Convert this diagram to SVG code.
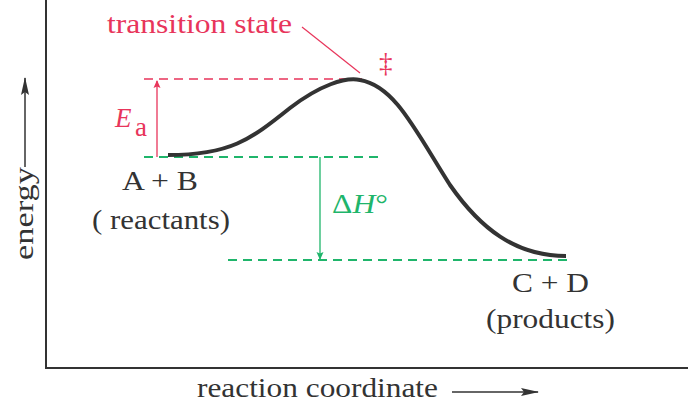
<svg xmlns="http://www.w3.org/2000/svg" width="688" height="403" viewBox="0 0 688 403">
<style>
text{font-family:"Liberation Serif","Times New Roman",serif;font-size:27px}
.k{fill:#333}
.r{fill:#e8355b}
.g{fill:#1fb56b}
.rd{stroke:#e8355b;stroke-width:1.5;stroke-dasharray:9,6;fill:none}
.gd{stroke:#1fb56b;stroke-width:1.8;stroke-dasharray:9,6;fill:none}
</style>
<defs>
<marker id="ak" markerWidth="18" markerHeight="8" refX="17" refY="4" orient="auto" markerUnits="userSpaceOnUse"><path d="M0,0 L18,4 L0,8 L3,4 Z" fill="#333"/></marker>
<marker id="ar" markerWidth="8" markerHeight="8" refX="7" refY="4" orient="auto" markerUnits="userSpaceOnUse"><path d="M0,0.5 L8,4 L0,7.5 L1.5,4 Z" fill="#e8355b"/></marker>
<marker id="ag" markerWidth="8" markerHeight="8" refX="7" refY="4" orient="auto" markerUnits="userSpaceOnUse"><path d="M0,0.5 L8,4 L0,7.5 L1.5,4 Z" fill="#1fb56b"/></marker>
</defs>
<g id="axes" stroke="#333" stroke-width="2" fill="none">
<path d="M46,0 V368 H688"/>
</g>
<g id="connectors">
<line class="rd" x1="144" y1="79" x2="362" y2="79"/>
<line x1="157" y1="157" x2="157" y2="81" stroke="#e8355b" stroke-width="1.3" marker-end="url(#ar)"/>
<line x1="302" y1="27" x2="360" y2="73" stroke="#e8355b" stroke-width="1.2"/>
<line class="gd" x1="144" y1="157" x2="384" y2="157"/>
<line x1="320" y1="157" x2="320" y2="259" stroke="#1fb56b" stroke-width="1.3" marker-end="url(#ag)"/>
<line class="gd" x1="228" y1="260" x2="568" y2="260"/>
<line x1="25" y1="167" x2="25" y2="78" stroke="#333" stroke-width="1.5" marker-end="url(#ak)"/>
<line x1="452" y1="392" x2="538" y2="392" stroke="#333" stroke-width="1.5" marker-end="url(#ak)"/>
</g>
<g id="curve">
<path d="M168,155 C230,155 250,140 290,108 C320,85 345,77 360,80 C395,86 415,130 450,185 C480,228 515,256 566,256" fill="none" stroke="#333" stroke-width="4"/>
</g>
<g id="labels">
<text class="r" x="107" y="33" textLength="185" lengthAdjust="spacingAndGlyphs">transition state</text>
<text class="r" x="379" y="72" font-size="22">‡</text>
<text class="r" x="115" y="127" font-style="italic" font-size="30">E</text>
<text class="r" x="135" y="136" font-size="22">a</text>
<text class="g" x="332" y="213" font-size="29" textLength="56" lengthAdjust="spacingAndGlyphs">Δ<tspan font-style="italic">H</tspan>°</text>
<text class="k" x="122" y="190" textLength="76" lengthAdjust="spacingAndGlyphs">A + B</text>
<text class="k" x="92" y="229" textLength="138" lengthAdjust="spacingAndGlyphs">( reactants)</text>
<text class="k" x="512" y="292" textLength="77" lengthAdjust="spacingAndGlyphs">C + D</text>
<text class="k" x="486" y="328" textLength="129" lengthAdjust="spacingAndGlyphs">(products)</text>
<text class="k" x="197" y="397" textLength="241" lengthAdjust="spacingAndGlyphs">reaction coordinate</text>
<text class="k" transform="translate(33,260) rotate(-90)" textLength="93" lengthAdjust="spacingAndGlyphs">energy</text>
</g>
</svg>
